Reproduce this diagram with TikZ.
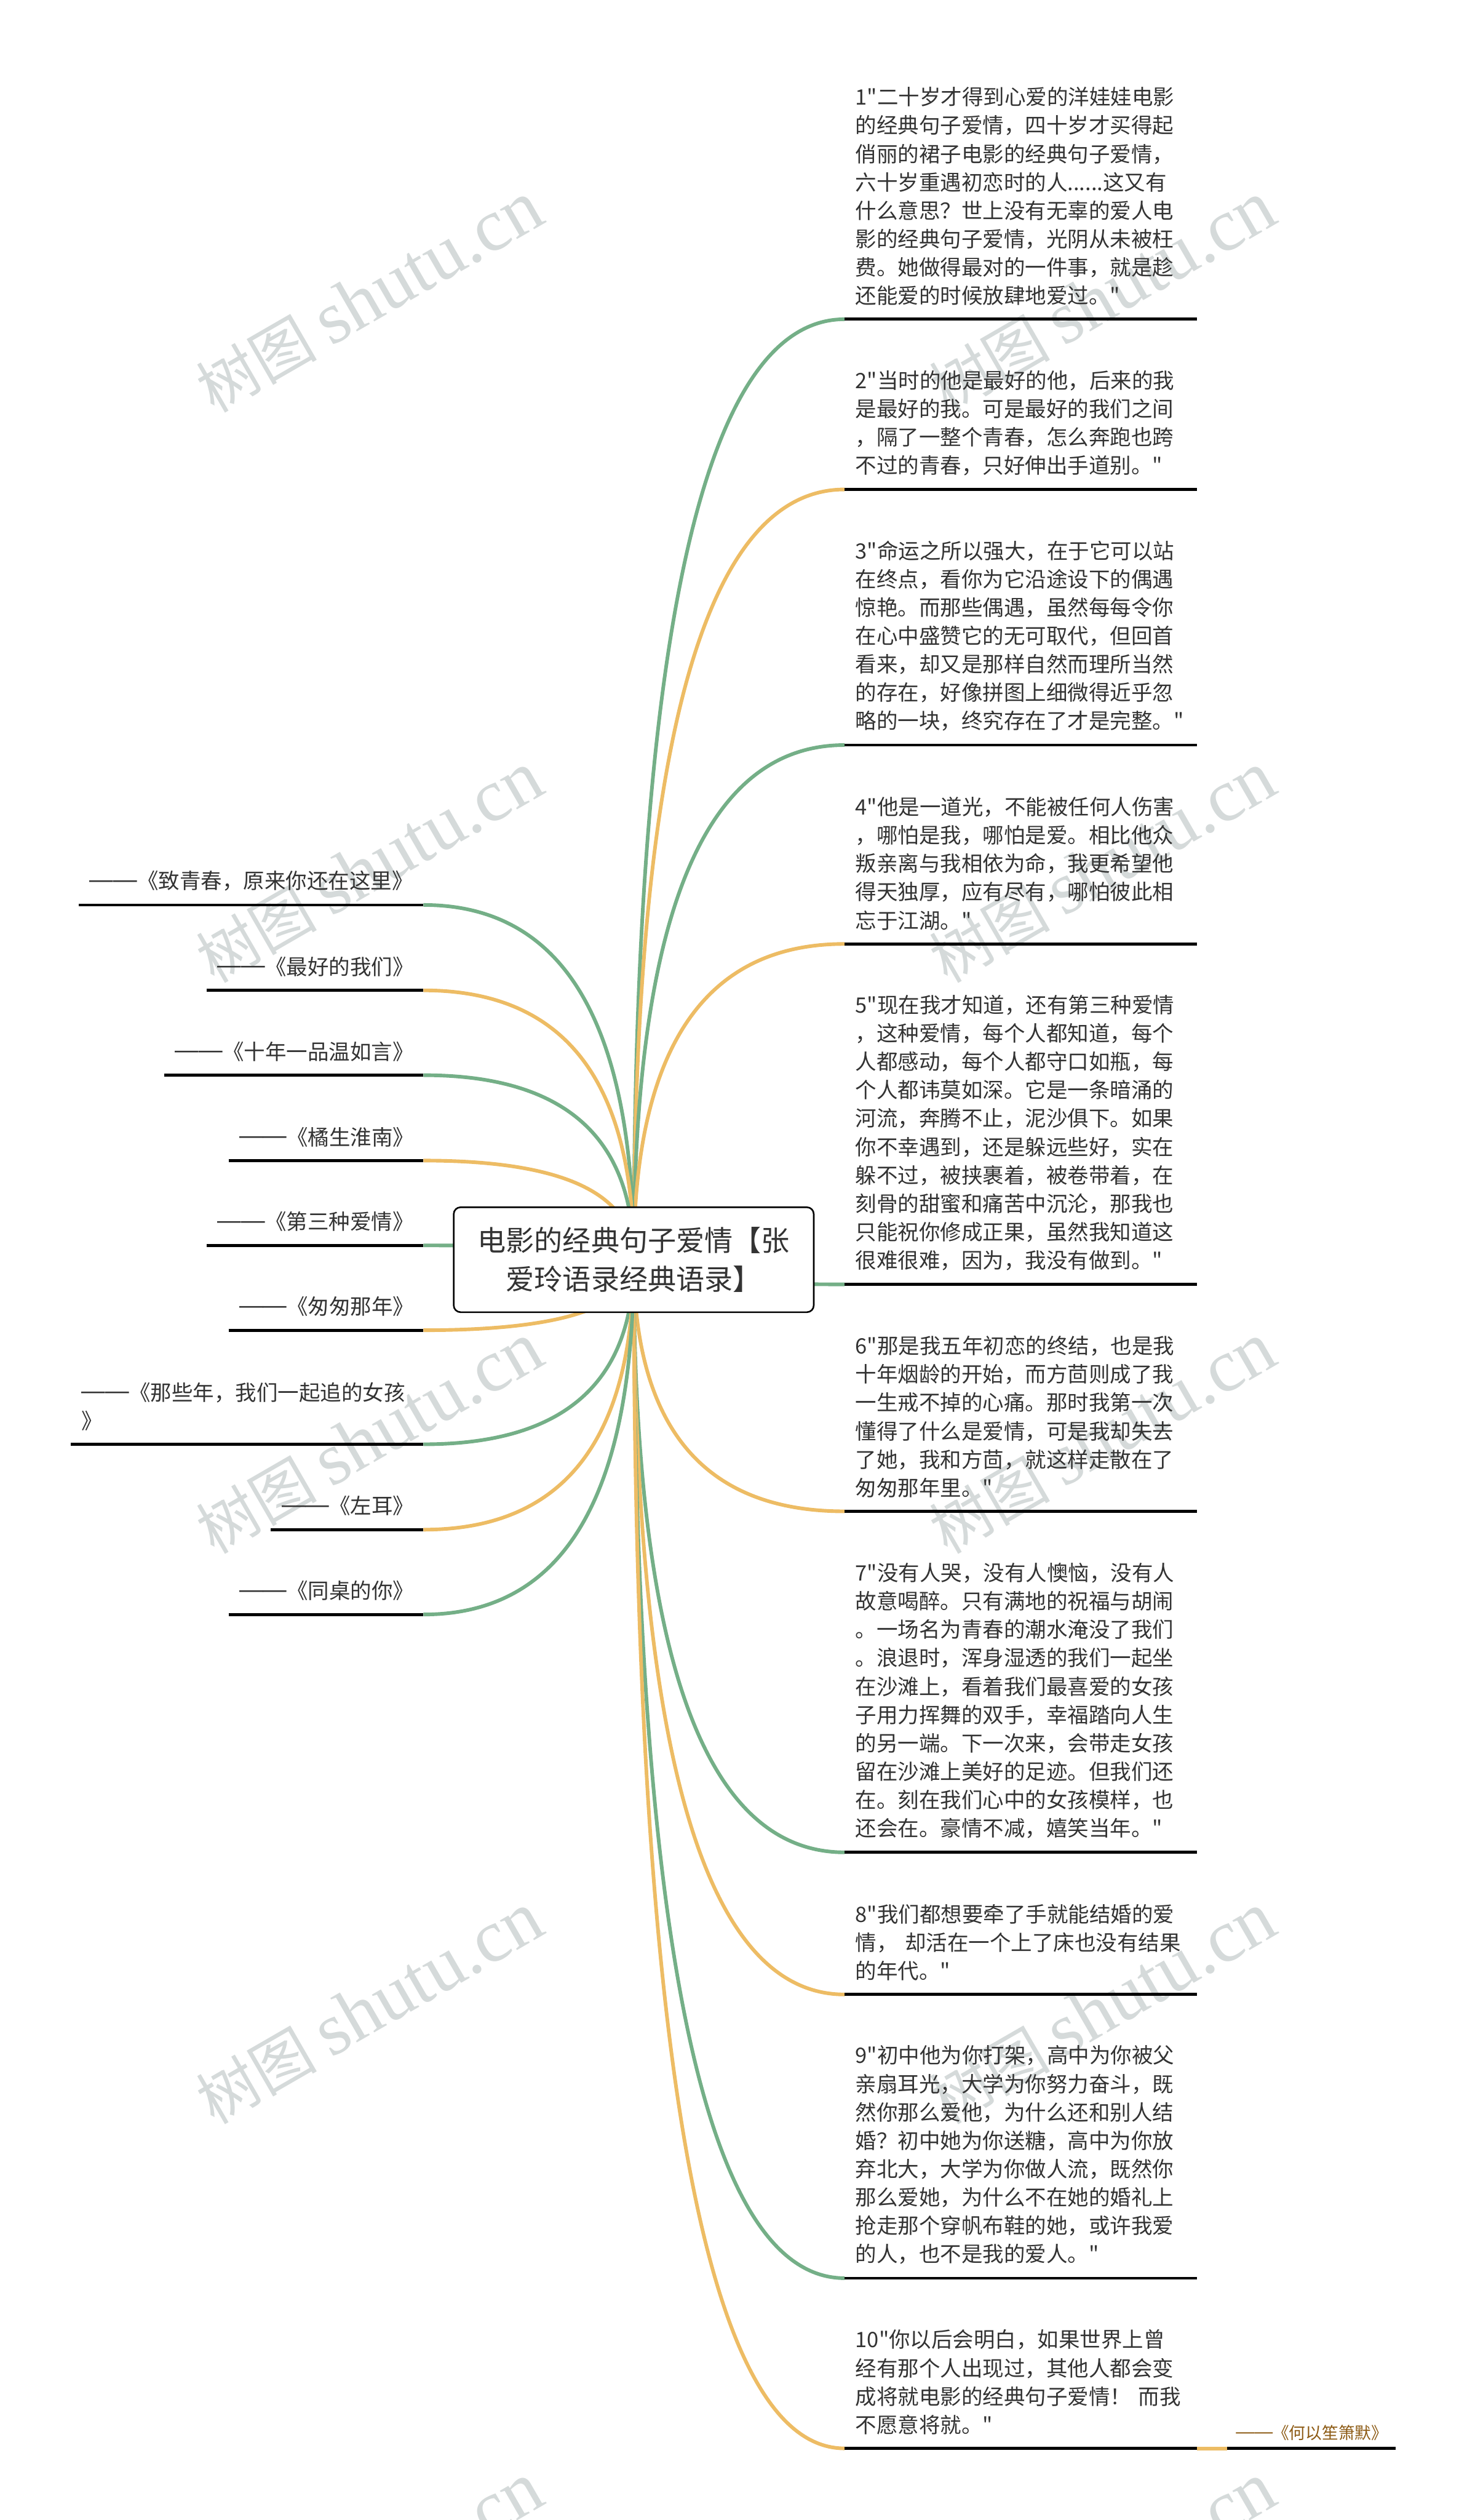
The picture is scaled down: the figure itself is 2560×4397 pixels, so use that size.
\documentclass[tikz,border=0pt]{standalone}
\usepackage{fontspec}
\usetikzlibrary{calc}
\setmainfont{Noto Sans CJK SC}[Ligatures=TeXOff]
\newfontfamily\stampfont{Liberation Serif}
\newfontfamily\dashfont{Liberation Sans}[Scale=1.12]
\newcommand{\longdash}{\raisebox{0.07em}{\dashfont ——}}
\definecolor{branchgreen}{HTML}{74AF87}
\definecolor{branchorange}{HTML}{EDBC64}
\definecolor{inktext}{HTML}{333333}
\definecolor{stampgray}{HTML}{D5DADA}
\definecolor{sourcebrown}{HTML}{8C5A14}
\tikzset{
    quote/.style={anchor=south west, inner xsep=0.19cm, inner ysep=0.24cm, outer sep=0pt, align=left, text=inktext, text width=5.77cm, font=\fontsize{10.53pt}{14.08pt}\selectfont},
    film/.style={anchor=south east, inner xsep=0.19cm, inner ysep=0.24cm, outer sep=0pt, align=left, text=inktext, font=\fontsize{10.53pt}{14.08pt}\selectfont},
    source/.style={anchor=south west, inner xsep=0.15cm, inner ysep=0.14cm, outer sep=0pt, align=left, text=sourcebrown, text width=2.63cm, font=\fontsize{8.16pt}{11pt}\selectfont},
    rule/.style={black, line width=1.45pt},
    fan/.style={line width=1.8pt, to path={.. controls ($(\tikztostart)!0.667!(\tikztostart |- \tikztotarget)$) and ($(\tikztotarget)!0.667!(\tikztostart |- \tikztotarget)$) .. (\tikztotarget)}},
    greenfan/.style={fan, branchgreen},
    orangefan/.style={fan, branchorange},
    stamp/.style={rotate=30, text=stampgray, font=\fontsize{30pt}{40pt}\selectfont},
    topic/.style={draw=black, line width=0.8pt, fill=white, rounded corners=0.12cm, minimum width=6.28cm, minimum height=1.83cm, inner xsep=0pt, inner ysep=-0.3cm, align=center, text=inktext, font=\fontsize{14.08pt}{19pt}\selectfont},
}
\begin{document}
\begin{tikzpicture}[x=0.01cm, y=-0.01cm]
    \useasboundingbox (0, 0) rectangle (2560, 4397);

    \node[stamp] (s1) at (645, 519){树图 {\stampfont\fontsize{37pt}{40pt}\selectfont shutu.cn}};
    \node[stamp] (s2) at (1924, 519){树图 {\stampfont\fontsize{37pt}{40pt}\selectfont shutu.cn}};
    \node[stamp] (s3) at (645, 1514){树图 {\stampfont\fontsize{37pt}{40pt}\selectfont shutu.cn}};
    \node[stamp] (s4) at (1924, 1514){树图 {\stampfont\fontsize{37pt}{40pt}\selectfont shutu.cn}};
    \node[stamp] (s5) at (645, 2510){树图 {\stampfont\fontsize{37pt}{40pt}\selectfont shutu.cn}};
    \node[stamp] (s6) at (1924, 2510){树图 {\stampfont\fontsize{37pt}{40pt}\selectfont shutu.cn}};
    \node[stamp] (s7) at (645, 3505){树图 {\stampfont\fontsize{37pt}{40pt}\selectfont shutu.cn}};
    \node[stamp] (s8) at (1924, 3505){树图 {\stampfont\fontsize{37pt}{40pt}\selectfont shutu.cn}};
    \node[stamp] (s9) at (645, 4500){树图 {\stampfont\fontsize{37pt}{40pt}\selectfont shutu.cn}};
    \node[stamp] (s10) at (1924, 4500){树图 {\stampfont\fontsize{37pt}{40pt}\selectfont shutu.cn}};

    \coordinate (hub) at (1106, 2198);

    \node[quote] (q1) at (1474, 557){1"二十岁才得到心爱的洋娃娃电影\\的经典句子爱情，四十岁才买得起\\俏丽的裙子电影的经典句子爱情，\\六十岁重遇初恋时的人......这又有\\什么意思？世上没有无辜的爱人电\\影的经典句子爱情，光阴从未被枉\\费。她做得最对的一件事，就是趁\\还能爱的时候放肆地爱过。"};
        \draw[greenfan](hub) to (q1.south west);
        \draw[rule](q1.south west) to (q1.south east);
    \node[quote] (q2) at (1474, 854){2"当时的他是最好的他，后来的我\\是最好的我。可是最好的我们之间\\，隔了一整个青春，怎么奔跑也跨\\不过的青春，只好伸出手道别。"};
        \draw[orangefan](hub) to (q2.south west);
        \draw[rule](q2.south west) to (q2.south east);
    \node[quote] (q3) at (1474, 1300){3"命运之所以强大，在于它可以站\\在终点，看你为它沿途设下的偶遇\\惊艳。而那些偶遇，虽然每每令你\\在心中盛赞它的无可取代，但回首\\看来，却又是那样自然而理所当然\\的存在，好像拼图上细微得近乎忽\\略的一块，终究存在了才是完整。"};
        \draw[greenfan](hub) to (q3.south west);
        \draw[rule](q3.south west) to (q3.south east);
    \node[quote] (q4) at (1474, 1647){4"他是一道光，不能被任何人伤害\\，哪怕是我，哪怕是爱。相比他众\\叛亲离与我相依为命，我更希望他\\得天独厚，应有尽有，哪怕彼此相\\忘于江湖。"};
        \draw[orangefan](hub) to (q4.south west);
        \draw[rule](q4.south west) to (q4.south east);
    \node[quote] (q5) at (1474, 2241){5"现在我才知道，还有第三种爱情\\，这种爱情，每个人都知道，每个\\人都感动，每个人都守口如瓶，每\\个人都讳莫如深。它是一条暗涌的\\河流，奔腾不止，泥沙俱下。如果\\你不幸遇到，还是躲远些好，实在\\躲不过，被挟裹着，被卷带着，在\\刻骨的甜蜜和痛苦中沉沦，那我也\\只能祝你修成正果，虽然我知道这\\很难很难，因为，我没有做到。"};
        \draw[greenfan](hub) to (q5.south west);
        \draw[rule](q5.south west) to (q5.south east);
    \node[quote] (q6) at (1474, 2637){6"那是我五年初恋的终结，也是我\\十年烟龄的开始，而方茴则成了我\\一生戒不掉的心痛。那时我第一次\\懂得了什么是爱情，可是我却失去\\了她，我和方茴，就这样走散在了\\匆匆那年里。"};
        \draw[orangefan](hub) to (q6.south west);
        \draw[rule](q6.south west) to (q6.south east);
    \node[quote] (q7) at (1474, 3232){7"没有人哭，没有人懊恼，没有人\\故意喝醉。只有满地的祝福与胡闹\\。一场名为青春的潮水淹没了我们\\。浪退时，浑身湿透的我们一起坐\\在沙滩上，看着我们最喜爱的女孩\\子用力挥舞的双手，幸福踏向人生\\的另一端。下一次来，会带走女孩\\留在沙滩上美好的足迹。但我们还\\在。刻在我们心中的女孩模样，也\\还会在。豪情不减，嬉笑当年。"};
        \draw[greenfan](hub) to (q7.south west);
        \draw[rule](q7.south west) to (q7.south east);
    \node[quote] (q8) at (1474, 3480){8"我们都想要牵了手就能结婚的爱\\情， 却活在一个上了床也没有结果\\的年代。"};
        \draw[orangefan](hub) to (q8.south west);
        \draw[rule](q8.south west) to (q8.south east);
    \node[quote] (q9) at (1474, 3975){9"初中他为你打架，高中为你被父\\亲扇耳光，大学为你努力奋斗，既\\然你那么爱他，为什么还和别人结\\婚？初中她为你送糖，高中为你放\\弃北大，大学为你做人流，既然你\\那么爱她，为什么不在她的婚礼上\\抢走那个穿帆布鞋的她，或许我爱\\的人，也不是我的爱人。"};
        \draw[greenfan](hub) to (q9.south west);
        \draw[rule](q9.south west) to (q9.south east);
    \node[quote] (q10) at (1474, 4272){10"你以后会明白，如果世界上曾\\经有那个人出现过，其他人都会变\\成将就电影的经典句子爱情！ 而我\\不愿意将就。"};
        \draw[orangefan](hub) to (q10.south west);
        \draw[rule](q10.south west) to (q10.south east);

    \node[source] (book) at (2142, 4272){\longdash《何以笙箫默》};
        \draw[branchorange, line width=1.8pt](q10.south east) to (book.south west);
        \draw[rule](book.south west) to (book.south east);

    \node[film, text width=5.63cm] (f1) at (739, 1579){\longdash《致青春，原来你还在这里》};
        \draw[greenfan](hub) to (f1.south east);
        \draw[rule](f1.south west) to (f1.south east);
    \node[film, text width=3.40cm] (f2) at (739, 1728){\longdash《最好的我们》};
        \draw[orangefan](hub) to (f2.south east);
        \draw[rule](f2.south west) to (f2.south east);
    \node[film, text width=4.14cm] (f3) at (739, 1876){\longdash《十年一品温如言》};
        \draw[greenfan](hub) to (f3.south east);
        \draw[rule](f3.south west) to (f3.south east);
    \node[film, text width=3.02cm] (f4) at (739, 2025){\longdash《橘生淮南》};
        \draw[orangefan](hub) to (f4.south east);
        \draw[rule](f4.south west) to (f4.south east);
    \node[film, text width=3.40cm] (f5) at (739, 2173){\longdash《第三种爱情》};
        \draw[greenfan](hub) to (f5.south east);
        \draw[rule](f5.south west) to (f5.south east);
    \node[film, text width=3.02cm] (f6) at (739, 2321){\longdash《匆匆那年》};
        \draw[orangefan](hub) to (f6.south east);
        \draw[rule](f6.south west) to (f6.south east);
    \node[film, text width=5.77cm] (f7) at (739, 2520){\longdash《那些年，我们一起追的女孩\\》};
        \draw[greenfan](hub) to (f7.south east);
        \draw[rule](f7.south west) to (f7.south east);
    \node[film, text width=2.28cm] (f8) at (739, 2669){\longdash《左耳》};
        \draw[orangefan](hub) to (f8.south east);
        \draw[rule](f8.south west) to (f8.south east);
    \node[film, text width=3.02cm] (f9) at (739, 2817){\longdash《同桌的你》};
        \draw[greenfan](hub) to (f9.south east);
        \draw[rule](f9.south west) to (f9.south east);

    \node[topic] (root) at (1106, 2198){电影的经典句子爱情【张\\爱玲语录经典语录】};
\end{tikzpicture}
\end{document}
